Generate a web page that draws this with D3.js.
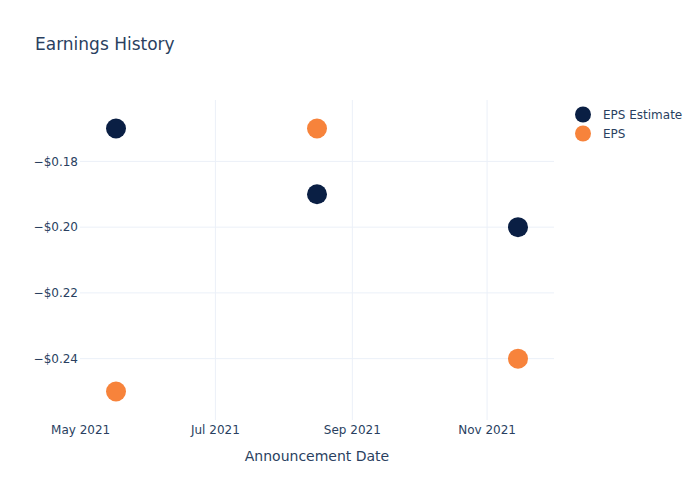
<!DOCTYPE html>
<html>
<head>
<meta charset="utf-8">
<script src="https://cdn.jsdelivr.net/npm/d3@7"></script>
<style>
  html, body { margin: 0; padding: 0; background: #fff; }
  svg { display: block; }
  text { font-family: "DejaVu Sans", Verdana, sans-serif; fill: #2a3f5f; }
</style>
</head>
<body>
<svg id="chart" width="700" height="500"></svg>
<script>
const dates = ["2021-05-17", "2021-08-16", "2021-11-15"];
const epsEstimate = [-0.17, -0.19, -0.20];
const eps = [-0.25, -0.17, -0.24];
const yTicks = [-0.18, -0.20, -0.22, -0.24];
const xTicks = ["2021-05-01", "2021-07-01", "2021-09-01", "2021-11-01"];
const seriesNames = ["EPS Estimate", "EPS"];
const seriesColors = ["#0a1f44", "#f7833b"];

const W = 700, H = 500;
const L = 80, R = 554, T = 100, B = 420;
const padX = 36, padY = 28.5;

const svg = d3.select("#chart");
const parse = d3.timeParse("%Y-%m-%d");
const dts = dates.map(parse);

const x = d3.scaleTime().domain(d3.extent(dts)).range([L + padX, R - padX]);
x.domain([x.invert(L), x.invert(R)]).range([L, R]);

const allY = epsEstimate.concat(eps);
const y = d3.scaleLinear().domain(d3.extent(allY)).range([B - padY, T + padY]);
y.domain([y.invert(B), y.invert(T)]).range([B, T]);

const fmtY = v => "\u2212$" + Math.abs(v).toFixed(2);
const fmtX = d3.timeFormat("%b %Y");

// grid
const grid = svg.append("g");
grid.selectAll("line.gy").data(yTicks).enter().append("line")
  .attr("x1", L).attr("x2", R)
  .attr("y1", d => y(d)).attr("y2", d => y(d))
  .attr("stroke", "#EBF0F8").attr("stroke-width", 1);
grid.selectAll("line.gx").data(xTicks.map(parse)).enter().append("line")
  .attr("y1", T).attr("y2", B)
  .attr("x1", d => x(d)).attr("x2", d => x(d))
  .attr("stroke", "#EBF0F8").attr("stroke-width", 1)
  .attr("display", d => (x(d) > L + 1 && x(d) < R - 1) ? null : "none");

// y tick labels
svg.append("g").selectAll("text").data(yTicks).enter().append("text")
  .attr("x", L - 2).attr("y", d => y(d)).attr("dy", "0.35em")
  .attr("text-anchor", "end").attr("font-size", 12)
  .text(fmtY);

// x tick labels
svg.append("g").selectAll("text").data(xTicks.map(parse)).enter().append("text")
  .attr("x", d => x(d)).attr("y", B + 14)
  .attr("text-anchor", "middle").attr("font-size", 12)
  .text(fmtX);

// axis title
svg.append("text").attr("x", (L + R) / 2).attr("y", 461)
  .attr("text-anchor", "middle").attr("font-size", 14)
  .text("Announcement Date");

// title
svg.append("text").attr("x", 35).attr("y", 50)
  .attr("font-size", 17).text("Earnings History");

// points
const series = [epsEstimate, eps];
series.forEach((vals, i) => {
  svg.append("g").selectAll("circle").data(vals).enter().append("circle")
    .attr("cx", (d, j) => x(dts[j]))
    .attr("cy", d => y(d))
    .attr("r", 10)
    .attr("fill", seriesColors[i]);
});

// legend
const lg = svg.append("g");
seriesNames.forEach((name, i) => {
  const yy = 114.5 + i * 19;
  lg.append("circle").attr("cx", 583).attr("cy", yy).attr("r", 8).attr("fill", seriesColors[i]);
  lg.append("text").attr("x", 603).attr("y", yy).attr("dy", "0.35em")
    .attr("font-size", 12).text(name);
});
</script>
</body>
</html>
